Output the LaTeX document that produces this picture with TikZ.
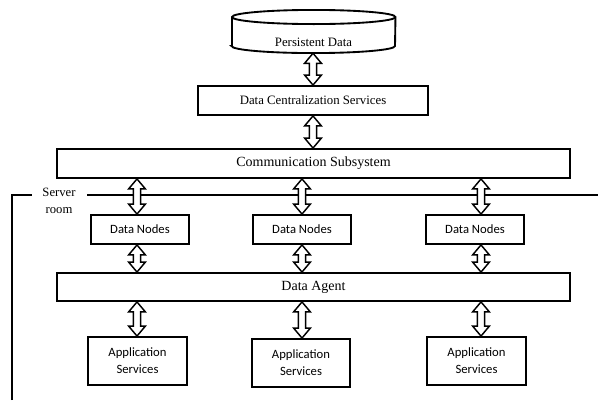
\documentclass[tikz,border=0pt]{standalone}
\usepackage{fontspec}
\setmainfont{Liberation Serif}
\newfontfamily\carl{Carlito}
\usetikzlibrary{calc,fit}
\tikzset{
  box/.style={draw=black, line width=1.4pt, inner sep=0pt},
  smallbox/.style={box, font=\carl\fontsize{9.5pt}{12.75pt}\selectfont, align=center},
  bigtext/.style={font=\fontsize{10.5pt}{12pt}\selectfont},
  medtext/.style={font=\fontsize{9.6pt}{12pt}\selectfont},
  dar/.style={draw=black, line width=1.1pt, fill=white, line join=miter},
  srline/.style={draw=black, line width=1.1pt}
}
\newcommand\dblarr[2]{\path[dar] let \p1=(#1), \p2=(#2) in
  (\x1,\y1) -- (\x1+6.3pt,\y1-7.5pt) -- (\x1+2.7pt,\y1-7.5pt) -- (\x1+2.7pt,\y2+7.5pt)
  -- (\x1+6.3pt,\y2+7.5pt) -- (\x1,\y2) -- (\x1-6.3pt,\y2+7.5pt) -- (\x1-2.7pt,\y2+7.5pt)
  -- (\x1-2.7pt,\y1-7.5pt) -- (\x1-6.3pt,\y1-7.5pt) -- cycle;}
\begin{document}
\begin{tikzpicture}[x=0.75pt,y=-0.75pt]
\useasboundingbox (0,0) rectangle (598,400);
% cylinder
\draw[box] (232,46) -- (232,17) arc[start angle=180,end angle=0,x radius=61.3pt,y radius=5.3pt]
  -- (395,46) arc[start angle=0,end angle=-180,x radius=61.3pt,y radius=5.3pt] -- cycle;
\draw[box] (232,17) arc[start angle=180,end angle=360,x radius=61.3pt,y radius=5.3pt];
\node[fit={(232,10)(395,53)}, inner sep=0pt] (cyl) {};
\node[medtext] (cyltext) at (313.5,42) {Persistent Data};
% boxes
\node[box, medtext, fit={(198,86)(428,115)}] (dcs) {};
\node[medtext] at (dcs.center) {Data Centralization Services};
\node[box, fit={(57,149)(570,178)}] (comm) {};
\node[bigtext] at (comm.center) {Communication Subsystem};
\node[box, fit={(57,273)(570,301)}] (agent) {};
\node[bigtext] at (agent.center) {Data Agent};
\node[smallbox, fit={(91,215)(189,244)}] (dn1) {};
\node[smallbox, fit={(253,215)(351,244)}] (dn2) {};
\node[smallbox, fit={(426,215)(524,244)}] (dn3) {};
\foreach \n in {dn1,dn2,dn3} \node[font=\carl\fontsize{9.5pt}{12.75pt}\selectfont] at (\n.center) {Data Nodes};
\node[smallbox, fit={(88,337)(187,385)}] (app1) {};
\node[smallbox, fit={(252,339)(350,387)}] (app2) {};
\node[smallbox, fit={(427,337)(526,385)}] (app3) {};
\foreach \n in {app1,app2,app3} \node[font=\carl\fontsize{9.5pt}{12.75pt}\selectfont, align=center] at (\n.center) {Application\\Services};
% server room
\node[font=\fontsize{9.5pt}{12.75pt}\selectfont, align=center] (sr) at (59,201) {Server\\room};
\coordinate (srB) at (12,400);
\coordinate (srC) at (12,195);
\coordinate (srL) at (32,195);
\coordinate (srR) at (87,195);
\coordinate (srE) at (598,195);
\draw[srline] (srB) -- (srC) -- (srL);
\draw[srline] (srR) -- (srE);
% arrow columns
\coordinate (m) at (313,0);
\coordinate (c1) at (137,0);
\coordinate (c2) at (302,0);
\coordinate (c3) at (481,0);
\dblarr{m |- cyl.south}{m |- dcs.north}
\dblarr{m |- dcs.south}{m |- comm.north}
\dblarr{c1 |- comm.south}{c1 |- dn1.north}
\dblarr{c2 |- comm.south}{c2 |- dn2.north}
\dblarr{c3 |- comm.south}{c3 |- dn3.north}
\dblarr{c1 |- dn1.south}{c1 |- agent.north}
\dblarr{c2 |- dn2.south}{c2 |- agent.north}
\dblarr{c3 |- dn3.south}{c3 |- agent.north}
\dblarr{c1 |- agent.south}{c1 |- app1.north}
\dblarr{c2 |- agent.south}{c2 |- app2.north}
\dblarr{c3 |- agent.south}{c3 |- app3.north}
\end{tikzpicture}
\end{document}
